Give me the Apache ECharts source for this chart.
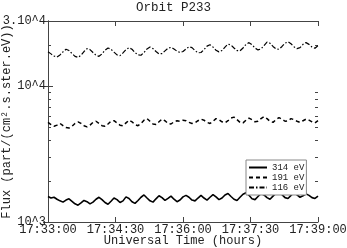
<!DOCTYPE html>
<html><head><meta charset="utf-8">
<script src="https://cdn.jsdelivr.net/npm/echarts@6/dist/echarts.min.js"></script>
<style>html,body{margin:0;padding:0;background:#fff}#c{width:347px;height:248px}</style>
</head><body><div id="c"></div>
<script>
const title = 'Orbit P233';
const xTitle = 'Universal Time (hours)';
const yTitle = 'Flux (part/(cm\u00b2.s.ster.eV))';
const startTime = '17:33:00';
const durationSec = 360;
const xTickStepSec = 90;
const yMin = 1000, yMax = 30000;
const yLabels = {1000: '10^3', 10000: '10^4', 30000: '3.10^4'};
const yMinorTicks = [2000,3000,4000,5000,6000,7000,8000,9000,20000];
const seriesNames = ['314 eV', '191 eV', '116 eV'];

const s314 = [1540,1500,1520,1470,1430,1400,1450,1480,1420,1360,1330,1380,1440,1410,1360,1400,1470,1520,1460,1390,1350,1420,1500,1460,1390,1430,1530,1490,1410,1370,1440,1520,1580,1500,1430,1400,1480,1560,1510,1440,1490,1550,1470,1410,1450,1530,1570,1520,1450,1430,1500,1570,1500,1450,1520,1590,1530,1460,1500,1580,1620,1540,1470,1440,1520,1600,1640,1570,1480,1460,1540,1620,1580,1510,1470,1550,1630,1680,1590,1510,1490,1570,1640,1580,1520,1560,1610,1570,1510,1490,1550];
const s191 = [5400,5200,5050,5150,5300,5100,4950,4900,5050,5300,5450,5300,5100,5000,5150,5400,5500,5300,5100,5050,5250,5500,5550,5350,5150,5100,5350,5600,5450,5200,5100,5300,5600,5750,5500,5250,5200,5450,5700,5550,5300,5250,5450,5550,5500,5600,5550,5400,5300,5350,5550,5700,5600,5400,5300,5500,5750,5650,5450,5350,5550,5800,5900,5650,5400,5350,5600,5800,5650,5450,5500,5750,5950,5750,5500,5400,5650,5850,5700,5500,5550,5750,5650,5500,5400,5550,5700,5600,5450,5350,5550];
const s116 = [17800,17200,16600,16300,16900,17800,18600,18200,17300,16500,16200,16800,17900,18800,18500,17600,16800,16500,17200,18300,19000,18600,17700,16900,16700,17500,18500,19100,18600,17600,16900,16800,17600,18700,19300,18800,17900,17200,17300,18100,18900,19200,18700,18000,17600,17900,18700,19400,19100,18200,17500,17600,18500,19600,20100,19300,18300,17800,18200,19300,20300,20000,19000,18200,18100,19000,20200,20800,20100,19000,18400,18700,19800,21000,20600,19500,18700,18600,19500,20600,21100,20400,19400,18800,19100,20200,20800,20200,19300,18900,19800];

function pairs(arr){ const step = durationSec/(arr.length-1); return arr.map((v,i)=>[i*step, v]); }
function fmtTime(s){
  const p = startTime.split(':').map(Number);
  let t = p[0]*3600+p[1]*60+p[2]+Math.round(s);
  const h = Math.floor(t/3600), m = Math.floor((t%3600)/60), sec = t%60;
  const z = n => (n<10?'0':'')+n;
  return z(h)+':'+z(m)+':'+z(sec);
}
const FONT = 'Liberation Mono';
const TXT = '#222';
const AX = '#444';
const chart = echarts.init(document.getElementById('c'), null, {renderer:'canvas'});
const grid = {left:48, right:29, top:21, bottom:26, containLabel:false, outerBoundsMode:'none'};
const logMin = Math.log10(yMin), logMax = Math.log10(yMax);
const minorLog = yMinorTicks.map(v=>Math.log10(v));
const xBase = {type:'value', min:0, max:durationSec, interval:xTickStepSec, splitLine:{show:false},
  axisLine:{show:true, onZero:false, lineStyle:{color:AX, width:1}},
  axisTick:{show:true, inside:true, length:5, lineStyle:{color:AX}}};
const yLog = {type:'log', logBase:10, min:yMin, max:yMax, splitLine:{show:false},
  axisLine:{show:true, lineStyle:{color:AX, width:1}},
  axisTick:{show:true, inside:true, length:5, lineStyle:{color:AX}}};
const yMinor = {type:'value', min:logMin, max:logMax, offset:0, splitLine:{show:false}, axisLine:{show:false}, axisLabel:{show:false},
  axisTick:{show:true, inside:true, length:3, interval:0, customValues:minorLog, lineStyle:{color:AX, width:1}}};
const styles = [{type:'solid', width:1.6},{type:[4,3], width:1.5},{type:[5,2,1.5,2], width:1.2}];
const datas = [s314, s191, s116];
chart.setOption({
  animation:false,
  title:{text:title, left:'center', top:1, padding:0, textStyle:{fontFamily:FONT, fontSize:12.5, fontWeight:'normal', color:TXT}},
  grid:grid,
  xAxis:[
    Object.assign({}, xBase, {position:'bottom', name:xTitle, nameLocation:'middle', nameGap:13, nameMoveOverlap:false,
      nameTextStyle:{fontFamily:FONT, fontSize:12, color:TXT},
      axisLabel:{fontFamily:FONT, fontSize:12, color:TXT, margin:2, formatter:fmtTime, showMinLabel:true, showMaxLabel:true, hideOverlap:false}}),
    Object.assign({}, xBase, {position:'top', axisLabel:{show:false}})
  ],
  yAxis:[
    Object.assign({}, yLog, {position:'left', name:yTitle, nameLocation:'middle', nameGap:35, nameMoveOverlap:false,
      nameTextStyle:{fontFamily:FONT, fontSize:12, color:TXT},
      axisLabel:{fontFamily:FONT, fontSize:12, color:TXT, margin:2, showMinLabel:true, showMaxLabel:true,
        formatter:v=>yLabels[Math.round(v)]||''}}),
    Object.assign({}, yLog, {position:'right', axisLabel:{show:false}}),
    Object.assign({}, yMinor, {position:'left'}),
    Object.assign({}, yMinor, {position:'right'})
  ],
  legend:{orient:'vertical', left:246, top:160, itemWidth:18, itemHeight:8, itemGap:1,
    backgroundColor:'#fff', borderColor:'#888', borderWidth:1, padding:[3,2,3,2],
    itemStyle:{opacity:0},
    textStyle:{fontFamily:FONT, fontSize:9, color:TXT}, data:seriesNames},
  series: datas.map((d,i)=>({name:seriesNames[i], type:'line', data:pairs(d), xAxisIndex:0, yAxisIndex:0,
    symbol:'none', showSymbol:false, lineStyle:Object.assign({color:'#000'}, styles[i]), itemStyle:{color:'#000'}}))
});
</script></body></html>
